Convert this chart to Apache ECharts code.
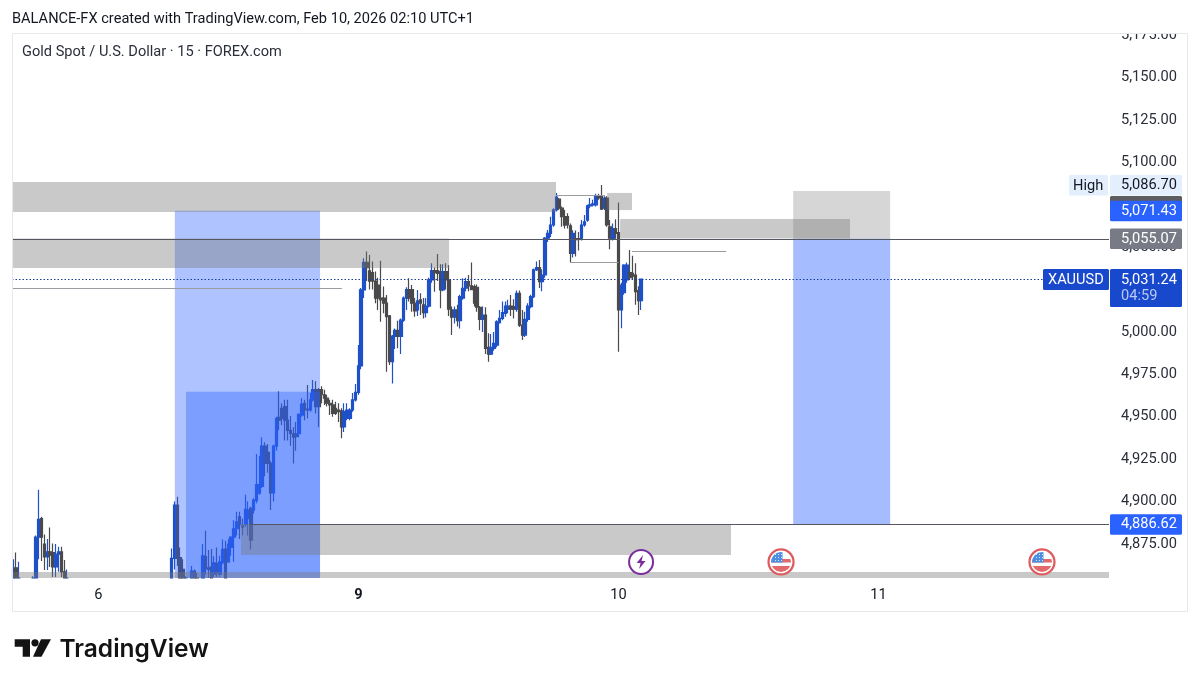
<!DOCTYPE html>
<html>
<head>
<meta charset="utf-8">
<title>XAUUSD</title>
<script src="https://cdn.jsdelivr.net/npm/echarts@6/dist/echarts.min.js"></script>
<style>
    html, body { margin: 0; padding: 0; background: #fff; }
    #chart { width: 1199px; height: 685px; }
</style>
</head>
<body>
<div id="chart"></div>
<script>
// 15 minute bars, index 0 is the first bar at the left edge of the pane.
// null = bar is hidden below the pane, nothing of it can be read
var barOpen = [
    4850,4861,4850,null,null,null,null,4850,4850,4879,
    4890,4875,4867.4,4870.4,4870,4861.5,4869,4870.4,4858.6,4852,
    null,null,null,null,null,null,null,null,null,null,
    null,null,null,null,null,null,null,null,null,null,
    null,null,null,null,null,null,null,null,null,null,
    null,null,null,null,null,null,4852,4866.5,4898,4867,
    4860,4852,null,4852,4859,4855,null,4852,4867.5,4861,
    4861.5,4857,4863.5,4857,4864,4872,4864.5,4873,4879,4884,
    4891,4886,4886.7,4890,4896,4895,4900.5,4905,4909,4932.7,
    4929,4922.5,4905.2,4932.7,4949.7,4955,4956,4948,4942,4940,
    4940,4940,4951,4958,4954.5,4954,4960,4966,4966,4966,
    4963,4961,4958,4957,4955,4954,4953.5,4944,4949,4949,
    4954,4959.9,4964.4,4980,5024.8,5041,5036,5035,5030,5027.7,
    5020,5020,5017,5009.5,4982.5,4997.4,5001,4997.4,5007,5020,
    5025,5025,5017,5013,5019,5016,5011.4,5015.3,5030.7,5036.2,
    5036.2,5035.6,5024.8,5035.6,5030.7,5013,5008.7,5013,5006.7,5020,
    5025.8,5029.7,5027.2,5026.8,5026.4,5014.6,5007.5,5010,4991,4987,
    4990.4,4992.3,5005.5,5008,5011,5013.4,5015.3,5015,5013.4,5022.8,
    5004,4998.2,5007.5,5015,5020.9,5036.6,5038,5029.7,5033.6,5055.3,
    5058.2,5063.1,5072,5078.3,5073,5068,5068,5062.6,5046.4,5055,
    5055,5055.3,5063.1,5066,5074.4,5075,5075,5080,5080,5073,
    5079,5062,5055,5061,5058.6,5013,5023.2,5030.7,5035,5034.6,
    5033.6,5024.4,5018.5
];
var barClose = [
    4860,4852,4848,null,null,null,null,4848,4879,4889.5,
    4879,4867.4,4870.4,4868.4,4861.5,4869,4870.4,4858.6,4852,4850,
    null,null,null,null,null,null,null,null,null,null,
    null,null,null,null,null,null,null,null,null,null,
    null,null,null,null,null,null,null,null,null,null,
    null,null,null,null,null,null,4866.5,4898,4866.5,4855,
    4852,4850,null,4859,4855,4852,null,4868,4860.5,4860,
    4855,4863.9,4858,4864.5,4871.8,4855,4875,4879,4884,4888,
    4886.7,4885,4895.4,4895,4877.3,4900.9,4910,4910,4932.7,4922.5,
    4922.5,4905.2,4932.7,4949,4948,4949,4948,4942,4940.2,4938,
    4938.3,4951.4,4957.5,4954,4954,4960,4966,4956,4956,4963,
    4961,4958,4957,4952,4952,4953,4944,4953,4954,4954,
    4960,4964.4,4980,5024.8,5041,5038,5030,5030,5020,5020,
    5019,5017,5009,4982.5,4997.6,5001,4997.4,5007,5020,5025,
    5020,5017,5012.4,5018.3,5017,5011.4,5015.3,5030.7,5036.2,5035,
    5034.6,5024.8,5035.6,5030.7,5013.4,5008.7,5013,5006.7,5020.9,5025.8,
    5029.7,5027.2,5025,5017,5014.6,5007.5,5010,4990.4,4987,4991,
    4993.3,5006,5008,5011.4,5015.3,5015.3,5013.4,5013.4,5022.8,5004,
    4998.2,5007.5,5015.3,5020.9,5036.6,5038,5029.7,5033.6,5055.3,5058.2,
    5063.1,5072,5079.5,5073,5068,5063,5063.1,5046.4,5058.2,5054.5,
    5054.6,5063.1,5065,5074.4,5075,5075.5,5080,5079,5072.4,5079,
    5063.1,5055.3,5061,5058.2,5013,5027.7,5039.5,5039.5,5032,5033,
    5023.8,5018.5,5031.24
];
var barLow = [
    4845,4848,4845,null,null,null,null,4846,4848,4866,
    4865,4859.6,4859.6,4861.5,4855.5,4855.5,4858.6,4855.5,4850,4848,
    null,null,null,null,null,null,null,null,null,null,
    null,null,null,null,null,null,null,null,null,null,
    null,null,null,null,null,null,null,null,null,null,
    null,null,null,null,null,null,4850,4860,4862,4850,
    4850,4848,null,4850,4850,4850,null,4848,4857,4855,
    4853,4855.6,4855.6,4855.6,4863,4852,4864,4868,4864.5,4880,
    4878,4880,4885,4880,4871.7,4893,4899,4904,4908,4915,
    4917,4895,4900,4930,4942,4945,4936,4936,4933,4922.5,
    4930,4938,4950,4948,4949,4953,4959,4952,4944,4958,
    4957,4956,4951,4950,4951,4947,4937.3,4941,4948,4948,
    4953,4959,4963,4978,5020,5030,5025,5025,5017,5013,
    5006,5011,4976.6,4980.5,4969.7,4990,4990.4,4987,5006,5013,
    5018,5012,5009,5009.5,5010,5008,5008.5,5014.5,5029,5023.8,
    5030,5014,5024,5025,5009.5,4998.2,5005,5003.2,5002,5019,
    5024,5024,5025,5015,5012,5001,5000,4987,4982.5,4986.4,
    4989,4991,5005,5007,5009,5011,5009.5,5008,5012,5003,
    4995.3,4997,5006,5014,5020,5036,5026,5024,5032,5053,
    5056,5062,5071,5072,5062,5061,5061,5041,5044,5044.5,
    5048,5054,5062,5065,5073,5074,5074,5078,5072,5072,
    5062,5048.8,5054,5055,4988.4,5002.2,5022,5029,5030.7,5031,
    5016,5010,5013
];
var barHigh = [
    4866,4870,4864.5,null,null,null,null,4856,4880,4907,
    4891,4880.6,4878,4884.8,4875.3,4875,4873.4,4873.4,4865.5,4860,
    null,null,null,null,null,null,null,null,null,null,
    null,null,null,null,null,null,null,null,null,null,
    null,null,null,null,null,null,null,null,null,null,
    null,null,null,null,null,null,4872.4,4900,4902.9,4873,
    4866,4856,null,4862,4860,4858,null,4875,4882.8,4871.4,
    4872,4867.8,4873,4868,4877.7,4876.9,4878,4879.5,4889,4894,
    4894,4890,4904,4900,4897,4902,4928,4927,4938,4935,
    4934,4924,4933.5,4950,4965,4958,4960,4960,4950.5,4944,
    4947,4952,4961,4960,4968.7,4964,4971.7,4971,4967,4968,
    4966,4963,4960,4960,4958.9,4958,4955,4958,4958,4955,
    4964,4969.3,4992.3,5026,5043.5,5047.4,5045.4,5041.5,5035.6,5032,
    5042,5026.8,5021.8,5010,4998.2,5002,5006.7,5008,5021,5026.4,
    5031.7,5027.7,5020,5024.8,5022.8,5020,5020,5032,5040.5,5038,
    5046,5040,5040,5040.5,5039.5,5015,5015,5016,5022,5031.7,
    5032,5033.6,5041,5028,5028,5015.4,5015,5014.6,4999.2,4998.8,
    5000,5007,5013,5018,5018,5019,5021.8,5019.3,5024.4,5024.4,
    5013,5012,5017,5022,5037.5,5041.5,5042.5,5037,5056,5060.2,
    5068,5073,5082,5079,5074,5072,5070,5064,5060,5059.8,
    5059,5066,5069,5075,5079,5078,5081.5,5081.5,5086.7,5080,
    5080,5066,5064,5066.5,5076.3,5029,5040,5041,5048.4,5044.9,
    5040.5,5027,5031.24
];

var priceTicks = [4875,4900,4925,4950,4975,5000,5025,5050,5075,5100,5125,5150,5175];
var dayTickBars = [30,122,214,306];
var dayTickLabels = ['6','{bold|9}','10','11'];

// drawn boxes on the chart: bar range and price range
var zoneStart  = [57.1, 61.05, 275.8, 275.8, -0.5, -0.5, 210, 214.6, 80.5, -0.5];
var zoneEnd    = [108.45, 108.45, 310.1, 310.1, 191.9, 154.1, 218.8, 295.9, 253.8, 387.5];
var zoneTop    = [5071.43, 4964.8, 5055.07, 5083.1, 5088.4, 5055.07, 5082, 5066.6, 4886.62, 4858.5];
var zoneBottom = [4840, 4840, 4886.62, 5055.07, 5070.8, 5037.7, 5071.9, 5055.07, 4868.5, 4840];
var zoneKind   = ['blue','blue','target','pale','gray','gray','gray','gray','gray','gray'];

// horizontal lines
var lineStart = [-0.5, 83.7, -0.5, 191.9, 196.9, 218.8, -0.5];
var lineEnd   = [387.5, 387.5, 116.2, 209.3, 214, 252.1, 387.5];
var linePrice = [5055.07, 4886.62, 5025.9, 5080.8, 5041.4, 5048, 5031.24];
var lineKind  = ['level','level','swing','swing','swing','swing','last'];

// price scale tags
var tagPrice = [5074.3, 5086.70, 5071.43, 5055.07, 5031.24, 4886.62];
var tagText  = ['', '5,086.70', '5,071.43', '5,055.07', '5,031.24', '4,886.62'];
var tagKind  = ['hidden','high','blue','gray','last','blue'];

// calendar events along the bottom of the pane
var eventBar   = [222, 271.5, 363.8];
var eventPrice = [4864.4, 4864.4, 4864.4];
var eventKind  = ['bolt','flag','flag'];

var paneLeft = 12, paneTop = 33, paneWidth = 1097, paneHeight = 545;
var priceMin = 4854.95, priceMax = 5176.3;
var zoneFill = {
    blue: 'rgba(41,98,255,0.38)',
    target: 'rgba(41,98,255,0.42)',
    pale: 'rgba(120,120,120,0.3)',
    gray: 'rgba(120,120,120,0.4)'
};
var lineColor = { level: '#55575e', swing: '#9a9ca2', last: '#1e3f99' };
var tagStyle = {
    hidden: { bg: '#5d5d60', fg: '#fff' },
    high: { bg: '#e3effd', fg: '#131722' },
    blue: { bg: '#2962ff', fg: '#fff' },
    gray: { bg: '#787b86', fg: '#fff' },
    last: { bg: '#1848cc', fg: '#fff' }
};
var uiFont = '14.6px Roboto, sans-serif';

// candlestick does not cut wicks at the pane edge, so stop them at the floor
function atFloor(v) {
    return Math.max(v, priceMin);
}
var candleData = [];
for (var i = 0; i < barOpen.length; i++) {
    if (barOpen[i] !== null) {
        candleData.push([i, atFloor(barOpen[i]), atFloor(barClose[i]), atFloor(barLow[i]), atFloor(barHigh[i])]);
    }
}
var zoneData = zoneStart.map(function (s, k) {
    return [s, zoneEnd[k], zoneTop[k], zoneBottom[k]];
});
var lineData = lineStart.map(function (s, k) {
    return [s, lineEnd[k], linePrice[k]];
});
var eventData = eventBar.map(function (b, k) {
    return [b, eventPrice[k]];
});

function renderZone(params, api) {
    var a = api.coord([api.value(0), api.value(2)]);
    var b = api.coord([api.value(1), api.value(3)]);
    return {
        type: 'rect',
        shape: { x: a[0], y: a[1], width: b[0] - a[0], height: b[1] - a[1] },
        style: { fill: zoneFill[zoneKind[params.dataIndex]] }
    };
}

function renderLine(params, api) {
    var a = api.coord([api.value(0), api.value(2)]);
    var b = api.coord([api.value(1), api.value(2)]);
    var kind = lineKind[params.dataIndex];
    return {
        type: 'line',
        shape: { x1: a[0], y1: Math.round(a[1]) + 0.5, x2: b[0], y2: Math.round(b[1]) + 0.5 },
        style: {
            stroke: lineColor[kind],
            lineWidth: kind === 'level' ? 1.2 : 1,
            lineDash: kind === 'last' ? [1.5, 2] : null
        }
    };
}

function tagLabel(x, y, text, color, font) {
    return {
        type: 'text',
        style: { x: x, y: y, text: text, fill: color, font: font || uiFont, textAlign: 'left', textVerticalAlign: 'middle' }
    };
}

function tagBox(x, y, w, h, fill) {
    return { type: 'rect', shape: { x: x, y: y, width: w, height: h, r: 1.5 }, style: { fill: fill } };
}

function renderTag(params, api) {
    var k = params.dataIndex;
    var kind = tagKind[k];
    var y = api.coord([0, api.value(0)])[1];
    var st = tagStyle[kind];
    var kids = [];
    if (kind === 'last') {
        kids.push(tagBox(1043, y - 10, 66, 21, st.bg));
        kids.push(tagLabel(1048, y + 1, 'XAUUSD', '#fff'));
        kids.push(tagBox(1110, y - 10, 72, 38, st.bg));
        kids.push(tagLabel(1121, y + 1, tagText[k], '#fff'));
        kids.push(tagLabel(1121, y + 17.5, '04:59', '#b9c8f5'));
    } else {
        if (kind === 'high') {
            kids.push(tagBox(1069, y - 10, 39, 20.5, st.bg));
            kids.push(tagLabel(1073, y + 1, 'High', st.fg));
        }
        kids.push(tagBox(1110, y - 10, 72, 20.5, st.bg));
        kids.push(tagLabel(1121, y + 0.5, tagText[k], st.fg));
    }
    return { type: 'group', children: kids };
}

function renderEvent(params, api) {
    var c = api.coord([api.value(0), api.value(1)]);
    var x = c[0], y = c[1];
    if (eventKind[params.dataIndex] === 'bolt') {
        return {
            type: 'group',
            children: [
                { type: 'circle', shape: { cx: x, cy: y, r: 12 }, style: { fill: '#fff', stroke: '#7b2d9e', lineWidth: 2 } },
                { type: 'polygon', shape: { points: [[x + 2, y - 7], [x - 4.5, y + 1], [x - 0.5, y + 1], [x - 2, y + 7], [x + 4.5, y - 1], [x + 0.5, y - 1]] }, style: { fill: '#7b2d9e' } }
            ]
        };
    }
    var flagKids = [
        { type: 'rect', shape: { x: x - 10, y: y - 3, width: 20, height: 3.5 }, style: { fill: '#e2686c' } },
        { type: 'rect', shape: { x: x - 10, y: y + 4, width: 20, height: 6 }, style: { fill: '#e2686c' } },
        { type: 'rect', shape: { x: x - 10, y: y - 10, width: 11.5, height: 10.5 }, style: { fill: '#4c8fe0' } }
    ];
    // little stars in the canton
    for (var dx = -6; dx <= 0; dx += 3) {
        for (var dy = -8; dy <= -2; dy += 3) {
            flagKids.push({ type: 'rect', shape: { x: x + dx, y: y + dy, width: 1, height: 1 }, style: { fill: '#dce9fa' } });
        }
    }
    return {
        type: 'group',
        children: [
            { type: 'circle', shape: { cx: x, cy: y, r: 12.5 }, style: { fill: '#fff', stroke: '#dd5a5e', lineWidth: 2.2 } },
            {
                type: 'group',
                clipPath: { type: 'circle', shape: { cx: x, cy: y, r: 10 } },
                children: flagKids
            }
        ]
    };
}

var myChart = echarts.init(document.getElementById('chart'));

var option = {
    animation: false,
    backgroundColor: '#fff',
    textStyle: { fontFamily: 'Roboto, sans-serif' },
    grid: { left: paneLeft, top: paneTop, width: paneWidth, height: paneHeight, containLabel: false },
    xAxis: {
        type: 'value',
        min: -0.5,
        max: 387.5,
        splitLine: { show: false },
        axisLine: { show: false },
        axisTick: { show: false },
        axisLabel: {
            customValues: dayTickBars,
            margin: 10,
            color: '#131722',
            fontSize: 14.6,
            fontFamily: 'Roboto',
            formatter: function (v) {
                return dayTickLabels[dayTickBars.indexOf(v)];
            },
            rich: { bold: { fontWeight: 700, fontSize: 14.6, color: '#131722', fontFamily: 'Roboto' } }
        }
    },
    yAxis: {
        type: 'value',
        position: 'right',
        min: priceMin,
        max: priceMax,
        splitLine: { show: false },
        axisLine: { show: false },
        axisTick: { show: false },
        axisLabel: {
            customValues: priceTicks,
            margin: 12,
            align: 'left',
            color: '#2a2e39',
            fontSize: 14.6,
            fontFamily: 'Roboto',
            padding: [0, 0, 3, 0],
            formatter: function (v) {
                return v.toLocaleString('en-US', { minimumFractionDigits: 2, maximumFractionDigits: 2 });
            }
        }
    },
    series: [
        {
            name: 'XAUUSD',
            type: 'candlestick',
            z: 2,
            barWidth: 3,
            encode: { x: 0, y: [1, 2, 3, 4] },
            data: candleData,
            itemStyle: {
                color: '#1e50c8',
                color0: '#4a4a4c',
                borderColor: '#1e50c8',
                borderColor0: '#4a4a4c',
                borderWidth: 1.2
            }
        },
        {
            type: 'custom',
            z: 3,
            clip: true,
            silent: true,
            encode: { x: [0, 1], y: [2, 3] },
            renderItem: renderZone,
            data: zoneData
        },
        {
            type: 'custom',
            z: 4,
            clip: true,
            silent: true,
            encode: { x: [0, 1], y: 2 },
            renderItem: renderLine,
            data: lineData
        },
        {
            type: 'custom',
            z: 5,
            silent: true,
            encode: { x: 0, y: 1 },
            renderItem: renderEvent,
            data: eventData
        },
        {
            type: 'custom',
            z: 6,
            silent: true,
            encode: { y: 0 },
            renderItem: renderTag,
            data: tagPrice.map(function (p) { return [p]; })
        }
    ],
    graphic: [
        // hides what sticks out above the pane, like the cut 5,175.00 label
        { type: 'rect', z: 50, shape: { x: 1110, y: 0, width: 80, height: 33 }, style: { fill: '#fff' } },
        { type: 'rect', z: 51, shape: { x: 12.5, y: 33.5, width: 1175, height: 578 }, style: { fill: 'none', stroke: '#e6e8ee', lineWidth: 1 } },
        { type: 'text', z: 52, x: 12, y: 19, style: { text: 'BALANCE-FX created with TradingView.com, Feb 10, 2026 02:10 UTC+1', fill: '#131722', font: uiFont, textVerticalAlign: 'middle' } },
        { type: 'text', z: 52, x: 22, y: 52, style: { text: 'Gold Spot / U.S. Dollar \u00b7 15 \u00b7 FOREX.com', fill: '#2a2e39', font: uiFont, textVerticalAlign: 'middle' } },
        // TradingView logo
        { type: 'polygon', z: 52, shape: { points: [[14.7, 639.3], [30, 639.3], [30, 656.7], [22.7, 656.7], [22.7, 646.7], [14.7, 646.7]] }, style: { fill: '#131313' } },
        { type: 'circle', z: 52, shape: { cx: 35, cy: 642.8, r: 3.6 }, style: { fill: '#131313' } },
        { type: 'polygon', z: 52, shape: { points: [[41, 639.3], [51, 639.3], [41.5, 656.7], [33, 656.7]] }, style: { fill: '#131313' } },
        { type: 'text', z: 52, x: 59.5, y: 650, style: { text: 'TradingView', fill: '#131313', font: '600 24.5px Inter, sans-serif', textVerticalAlign: 'middle' } }
    ]
};
myChart.setOption(option);
window.addEventListener('resize', function () {
    myChart.resize();
});
</script>
</body>
</html>
